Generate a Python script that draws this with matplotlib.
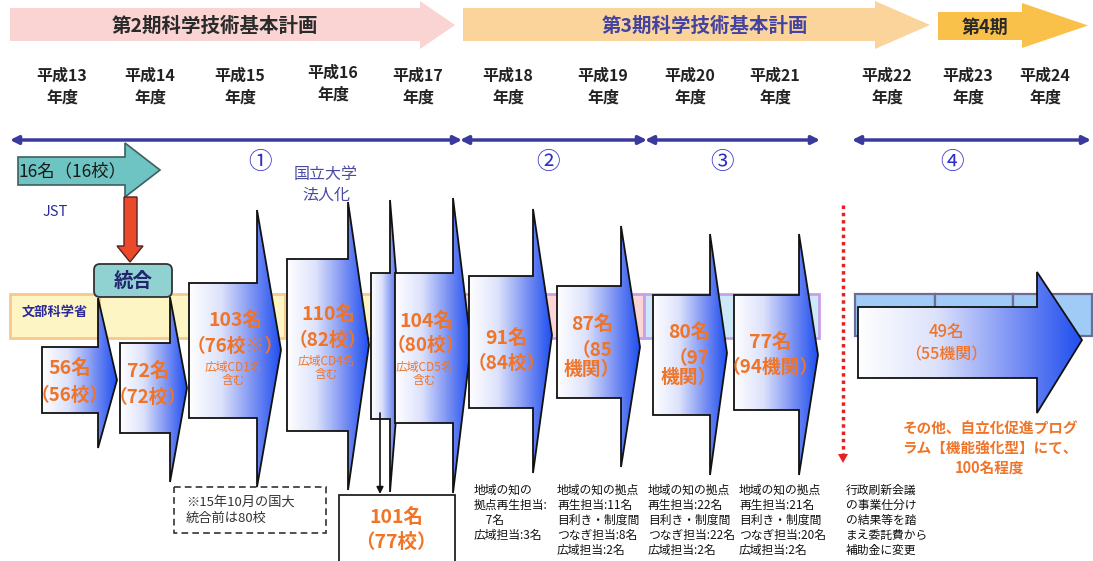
import matplotlib
matplotlib.use("Agg")
import matplotlib.pyplot as plt
from matplotlib.patches import Polygon, Rectangle, FancyBboxPatch
from matplotlib.colors import LinearSegmentedColormap
import numpy as np

plt.rcParams["font.family"] = ["Noto Sans CJK JP", "DejaVu Sans"]

# --- data ---
years = ["平成13", "平成14", "平成15", "平成16", "平成17", "平成18",
         "平成19", "平成20", "平成21", "平成22", "平成23", "平成24"]
plans = ["第2期科学技術基本計画", "第3期科学技術基本計画", "第4期"]
phases = ["①", "②", "③", "④"]
members = ["56名", "72名", "103名", "110名", "", "104名", "91名", "87名", "80名", "77名", "49名"]
orgs = ["（56校）", "（72校）", "（76校※）", "（82校）", "", "（80校）", "（84校）",
        "（85\n機関）", "（97\n機関）", "（94機関）", "（55機関）"]
cd_notes = ["", "", "広域CD1名\n含む", "広域CD4名\n含む", "", "広域CD5名\n含む", "", "", "", "", ""]
jst_label = "16名（16校）"
merged_label = "101名\n（77校）"
notes_below = [
    "地域の知の\n拠点再生担当:\n　7名\n広域担当:3名",
    "地域の知の拠点\n再生担当:11名\n目利き・制度間\nつなぎ担当:8名\n広域担当:2名",
    "地域の知の拠点\n再生担当:22名\n目利き・制度間\nつなぎ担当:22名\n広域担当:2名",
    "地域の知の拠点\n再生担当:21名\n目利き・制度間\nつなぎ担当:20名\n広域担当:2名",
    "行政刷新会議\nの事業仕分け\nの結果等を踏\nまえ委託費から\n補助金に変更",
]
other_note = "その他、自立化促進プログ\nラム【機能強化型】にて、\n100名程度"
footnote = "※15年10月の国大\n統合前は80校"

ORANGE = "#f07428"
NAVY = "#3a3a9c"

fig = plt.figure(figsize=(10.93, 5.61), dpi=100)
ax = fig.add_axes([0, 0, 1, 1])
ax.set_xlim(0, 1093)
ax.set_ylim(561, 0)
ax.axis("off")

cmap = LinearSegmentedColormap.from_list(
    "g", [(0, "#ffffff"), (0.35, "#dde2fb"), (0.7, "#7a91f3"), (1, "#1f4ff0")])


def banner(x0, xn, xt, bt, bb, ht, hb, color):
    ym = (ht + hb) / 2
    pts = [(x0, bt), (xn, bt), (xn, ht), (xt, ym), (xn, hb), (xn, bb), (x0, bb)]
    ax.add_patch(Polygon(pts, closed=True, fc=color, ec="none", zorder=1))


def grad_arrow(x0, xn, xt, bt, bb, ht, hb, ym, z):
    pts = [(x0, bt), (xn, bt), (xn, ht), (xt, ym), (xn, hb), (xn, bb), (x0, bb)]
    poly = Polygon(pts, closed=True, fc="none", ec="#111111", lw=1.3, zorder=z + 0.1)
    ax.add_patch(poly)
    g = np.linspace(0, 1, 256).reshape(1, -1)
    im = ax.imshow(g, cmap=cmap, extent=(x0, xt, hb, ht), aspect="auto", zorder=z)
    im.set_clip_path(poly)


# --- top plan banners ---
banner(10, 420, 455, 8, 41, 1, 49, "#fad3d3")
banner(463, 875, 930, 8, 41, 1, 49, "#fbd49c")
banner(938, 1022, 1088, 12, 40, 3, 48, "#f9c14a")
ax.text(215, 26, plans[0], ha="center", va="center", fontsize=14, weight="bold", color="#2a2a2a", zorder=3)
ax.text(705, 26, plans[1], ha="center", va="center", fontsize=14, weight="bold", color="#4444a0", zorder=3)
ax.text(985, 27, plans[2], ha="center", va="center", fontsize=13, weight="bold", color="#2a2a2a", zorder=3)

# --- year labels ---
year_x = [62, 150, 240, 333, 418, 508, 603, 690, 775, 887, 968, 1045]
for yx, lab in zip(year_x, years):
    dy = -3 if lab == "平成16" else 0
    ax.text(yx, 76 + dy, lab, ha="center", va="center", fontsize=11.5, weight="bold", color="#222222")
    ax.text(yx, 98 + dy, "年度", ha="center", va="center", fontsize=11.5, weight="bold", color="#222222")

# --- phase double arrows ---
for xa, xb in [(10, 462), (460, 647), (645, 820), (852, 1091)]:
    ax.annotate("", xy=(xa, 140), xytext=(xb, 140),
                arrowprops=dict(arrowstyle="<|-|>", color=NAVY, lw=2.5,
                                mutation_scale=12, shrinkA=0, shrinkB=0))
for px, ph in zip([260, 548, 722, 952], phases):
    ax.text(px, 162, ph, ha="center", va="center", fontsize=17, color="#2e2ec8")

# --- background bands ---
ax.add_patch(Rectangle((10, 294), 452, 44, fc="#fdf6c4", ec="#f8c88e", lw=2, zorder=1))
ax.plot([100, 100], [294, 338], color="#f8c88e", lw=1.5, zorder=1)
ax.plot([285, 285], [294, 338], color="#f8c88e", lw=1.5, zorder=1)
ax.add_patch(Rectangle((462, 294), 182, 44, fc="#fcd6d4", ec="#c9a0ea", lw=2, zorder=1))
ax.add_patch(Rectangle((644, 294), 175, 44, fc="#cde9f8", ec="#c9a0ea", lw=2, zorder=1))
for xa, xb in [(855, 935), (935, 1013), (1013, 1092)]:
    ax.add_patch(Rectangle((xa, 294), xb - xa, 42, fc="#9fcbf6", ec="#6c6c94", lw=1.6, zorder=1))
ax.text(55, 312, "文部科学省", ha="center", va="center", fontsize=9.5, weight="bold", color="#2a2a9a", zorder=3)

# --- JST arrow, red arrow, merge box ---
banner(18, 125, 160, 157, 185, 143, 197, "#6ec3c3")
ax.add_patch(Polygon([(18, 157), (125, 157), (125, 143), (160, 170), (125, 197), (125, 185), (18, 185)],
                     closed=True, fc="none", ec="#3f6060", lw=1.2, zorder=2))
ax.text(72, 171, jst_label, ha="center", va="center", fontsize=12.5, color="#1a1a1a", zorder=3)
ax.text(55, 212, "JST", ha="center", va="center", fontsize=10.5, color="#2a2aa0")
ax.add_patch(Polygon([(124, 197), (137, 197), (137, 246), (143, 246), (130, 262), (117, 246), (124, 246)],
                     closed=True, fc="#ea4a2a", ec="#552222", lw=1.0, zorder=3))
ax.add_patch(FancyBboxPatch((94, 264), 78, 33, boxstyle="round,pad=0,rounding_size=6",
                            fc="#90d2d2", ec="#333333", lw=1.3, zorder=4))
ax.text(133, 281, "統合", ha="center", va="center", fontsize=14, weight="bold", color="#24246e", zorder=5)
ax.text(326, 174, "国立大学", ha="center", va="center", fontsize=11.5, color="#4a4aa2")
ax.text(326, 195, "法人化", ha="center", va="center", fontsize=11.5, color="#4a4aa2")

# --- yearly arrows ---
geom = [
    (42, 98, 117, 347, 413, 298, 448, 380, 70, 368, 395, 0),
    (120, 170, 187, 343, 433, 297, 482, 388, 148, 371, 397, 0),
    (189, 257, 281, 283, 418, 210, 487, 350, 235, 320, 346, 374),
    (287, 348, 369, 259, 431, 202, 490, 345, 328, 314, 340, 368),
    (371, 390, 402, 273, 419, 200, 492, 345, 0, 0, 0, 0),
    (395, 453, 471, 273, 423, 198, 493, 345, 426, 321, 345, 374),
    (469, 533, 552, 276, 408, 209, 473, 335, 507, 338, 363, 0),
    (557, 621, 640, 286, 398, 226, 467, 347, 592, 324, 360, 0),
    (653, 710, 727, 295, 415, 234, 475, 353, 689, 332, 368, 0),
    (734, 799, 818, 295, 410, 234, 475, 355, 770, 342, 367, 0),
    (858, 1037, 1082, 307, 378, 272, 413, 340, 946, 332, 355, 0),
]
for i, g in enumerate(geom):
    x0, xn, xt, bt, bb, ht, hb, ym, tx, ty1, ty2, ty3 = g
    grad_arrow(x0, xn, xt, bt, bb, ht, hb, ym, 5 + i)
    if members[i]:
        last = i == len(geom) - 1
        big = 12 if last else 14
        w = "medium" if last else "bold"
        ax.text(tx, ty1, members[i], ha="center", va="center", fontsize=big, weight=w,
                color=ORANGE, zorder=30)
        ax.text(tx, ty2, orgs[i], ha="center", va="center", fontsize=big - 0.5, weight=w,
                color=ORANGE, zorder=30, linespacing=1.05)
    if cd_notes[i]:
        ax.text(tx - 2, ty3, cd_notes[i], ha="center", va="center", fontsize=8.5,
                color=ORANGE, zorder=30, linespacing=1.0)

# --- split to 101 ---
ax.annotate("", xy=(380, 494), xytext=(380, 413),
            arrowprops=dict(arrowstyle="-|>", color="#111111", lw=1.2, mutation_scale=10,
                            shrinkA=0, shrinkB=0), zorder=40)
ax.add_patch(Rectangle((339, 495), 116, 70, fc="white", ec="#222222", lw=1.3, zorder=40))
ax.text(396, 530, merged_label, ha="center", va="center", fontsize=14, weight="bold",
        color=ORANGE, zorder=41, linespacing=1.35)

# --- footnote box ---
ax.add_patch(Rectangle((174, 487), 152, 46, fc="none", ec="#333333", lw=1.2, ls=(0, (4, 2.5)), zorder=3))
ax.text(186, 510, footnote, ha="left", va="center", fontsize=9.5, color="#333333", linespacing=1.35)

# --- red dotted line ---
ax.plot([843, 843], [205, 455], color="#e82020", lw=2.5, ls=(0, (1, 1.1)), zorder=3)
ax.add_patch(Polygon([(838, 454), (848, 454), (843, 463)], closed=True, fc="#e82020", ec="none", zorder=3))

# --- notes below ---
for nx, txt in zip([474, 557, 648, 739, 846], notes_below):
    ax.text(nx, 484, txt, ha="left", va="top", fontsize=8.5, color="#111111", linespacing=1.2)

ax.text(990, 448, other_note, ha="center", va="center", fontsize=10.5, weight="bold",
        color=ORANGE, linespacing=1.3)

fig.savefig("out.png", dpi=100)
